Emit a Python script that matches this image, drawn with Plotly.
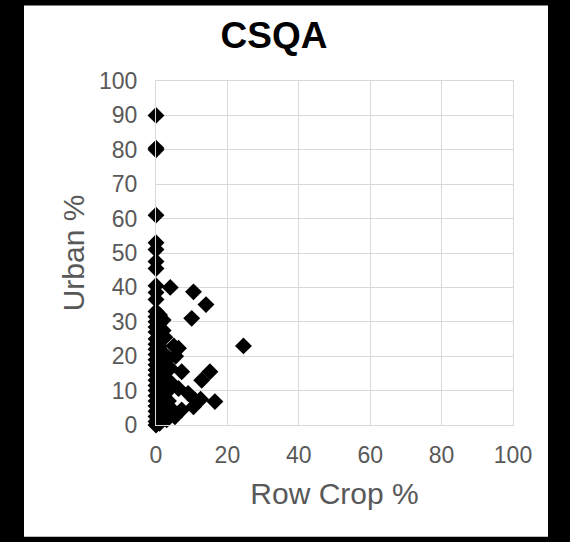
import plotly.graph_objects as go

# Row Crop % (x) and Urban % (y) for each site
row_crop = [
    0, 0, 0, 0, 0, 0, 0, 0, 0, 0, 0, 0, 0, 0, 0, 0, 0, 0, 0, 0, 0, 0, 0, 0, 0, 0, 0, 0, 0, 0, 0, 0, 0, 0,
    1, 1, 1, 1, 1, 1, 1, 1, 1, 1, 1, 1,
    2, 2, 2, 2, 2, 2, 2, 2, 2,
    2.5, 4, 3.5, 3, 4, 3.5, 3.5, 4.5, 5.3, 3, 4,
    5, 6.3, 5.5, 7.2, 6.3, 9, 10.9, 10.5, 7.2, 12.8, 15.1, 16.5, 24.5, 10.5, 14, 10, 12.5,
]
urban = [
    90, 80, 80.5, 61, 53, 51, 47.5, 45.5, 40.5, 38.5, 36.5, 33, 31.5, 30, 28.5, 27, 25, 23.5, 22, 20.5,
    19, 17.5, 16, 14.5, 13, 11.5, 10, 8.5, 7, 5.5, 4, 2.5, 1, 0,
    32, 29.5, 26, 23, 20, 17, 14, 11, 8, 5, 2, 0.5,
    30.5, 27.5, 21, 18, 15, 12, 9, 6, 3,
    25.5, 40, 19.5, 13, 16.5, 10, 7, 4.5, 2.4, 1.5, 12.5,
    23, 22.3, 20, 15.5, 10.6, 9.2, 7.3, 5.3, 4.4, 13, 15.5, 6.8, 23, 38.7, 35, 31, 7.5,
]

title_text = "CSQA"
x_title = "Row Crop %"
y_title = "Urban %"

W, H = 570, 542
L, R, T, B = 156, 513, 80.5, 425
pw, ph = R - L, B - T

fig = go.Figure()
fig.add_trace(go.Scatter(
    x=row_crop, y=urban, mode="markers",
    marker=dict(symbol="diamond", size=13, color="black", line=dict(width=0)),
    showlegend=False, cliponaxis=False,
))

grid = "#d9d9d9"
tick_font = dict(family="Liberation Sans, Arial", size=23, color="#595959")
title_font = dict(family="Liberation Sans, Arial", size=30, color="#595959")

fig.update_layout(
    width=W, height=H,
    margin=dict(l=L, r=W - R, t=T, b=H - B, pad=0),
    paper_bgcolor="black",
    plot_bgcolor="white",
    title=dict(text="<b>%s</b>" % title_text, x=274 / W, xanchor="center",
               y=1 - 35 / H, yanchor="middle", yref="container",
               font=dict(family="Liberation Sans, Arial", size=37, color="black")),
    xaxis=dict(range=[0, 100], dtick=20, tick0=0, showgrid=True, gridcolor=grid, gridwidth=1,
               zeroline=False, showline=True, linecolor=grid, mirror=True,
               tickfont=tick_font, ticks="", ticklabelstandoff=9,
               title=dict(text=x_title, font=title_font, standoff=16)),
    yaxis=dict(range=[0, 100], dtick=10, tick0=0, showgrid=True, gridcolor=grid, gridwidth=1,
               zeroline=False, showline=True, linecolor=grid, mirror=True,
               tickfont=tick_font, ticks="", ticklabelstandoff=13,
               title=dict(text=y_title, font=title_font, standoff=5)),
    shapes=[dict(type="rect", xref="paper", yref="paper", layer="below",
                 x0=(24 - L) / pw, x1=(548 - L) / pw,
                 y0=(B - 537) / ph, y1=(B - 5) / ph,
                 fillcolor="white", line=dict(width=0))],
)

fig.write_html("out.html")
